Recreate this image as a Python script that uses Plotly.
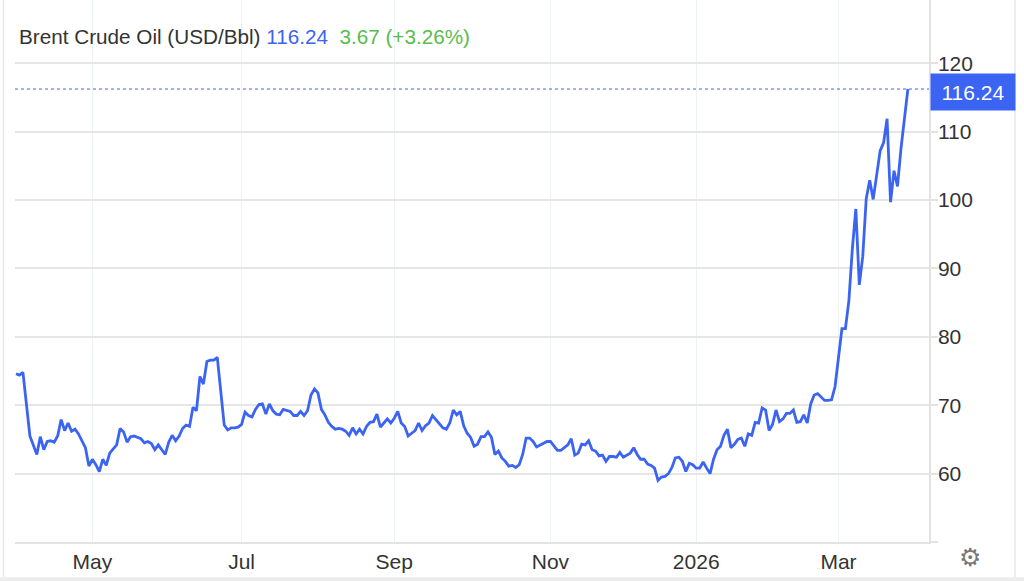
import plotly.graph_objects as go

# Brent crude daily closes (USD/Bbl)
dates = [
    "2025-03-31", "2025-04-01", "2025-04-02", "2025-04-04", "2025-04-08", "2025-04-09", "2025-04-10", "2025-04-11",
    "2025-04-14", "2025-04-15", "2025-04-16", "2025-04-17", "2025-04-21", "2025-04-22", "2025-04-23", "2025-04-24",
    "2025-04-25", "2025-04-29", "2025-04-30", "2025-05-01", "2025-05-02", "2025-05-05", "2025-05-06", "2025-05-07",
    "2025-05-08", "2025-05-12", "2025-05-13", "2025-05-14", "2025-05-15", "2025-05-16", "2025-05-19", "2025-05-21",
    "2025-05-22", "2025-05-23", "2025-05-26", "2025-05-27", "2025-05-28", "2025-05-29", "2025-05-30", "2025-06-02",
    "2025-06-03", "2025-06-04", "2025-06-05", "2025-06-06", "2025-06-09", "2025-06-10", "2025-06-11", "2025-06-12",
    "2025-06-13", "2025-06-16", "2025-06-17", "2025-06-18", "2025-06-19", "2025-06-20", "2025-06-23", "2025-06-24",
    "2025-06-25", "2025-06-26", "2025-06-27", "2025-06-30", "2025-07-01", "2025-07-02", "2025-07-03", "2025-07-04",
    "2025-07-07", "2025-07-08", "2025-07-09", "2025-07-10", "2025-07-11", "2025-07-14", "2025-07-15", "2025-07-16",
    "2025-07-17", "2025-07-18", "2025-07-21", "2025-07-22", "2025-07-23", "2025-07-24", "2025-07-25", "2025-07-28",
    "2025-07-29", "2025-07-30", "2025-07-31", "2025-08-01", "2025-08-04", "2025-08-05", "2025-08-06", "2025-08-07",
    "2025-08-08", "2025-08-11", "2025-08-12", "2025-08-13", "2025-08-14", "2025-08-15", "2025-08-18", "2025-08-19",
    "2025-08-20", "2025-08-21", "2025-08-22", "2025-08-25", "2025-08-26", "2025-08-27", "2025-08-28", "2025-08-29",
    "2025-09-01", "2025-09-02", "2025-09-03", "2025-09-04", "2025-09-05", "2025-09-08", "2025-09-09", "2025-09-10",
    "2025-09-11", "2025-09-12", "2025-09-15", "2025-09-16", "2025-09-17", "2025-09-18", "2025-09-19", "2025-09-22",
    "2025-09-23", "2025-09-24", "2025-09-25", "2025-09-26", "2025-09-29", "2025-09-30", "2025-10-01", "2025-10-02",
    "2025-10-03", "2025-10-06", "2025-10-07", "2025-10-08", "2025-10-09", "2025-10-10", "2025-10-13", "2025-10-14",
    "2025-10-15", "2025-10-16", "2025-10-17", "2025-10-20", "2025-10-21", "2025-10-22", "2025-10-23", "2025-10-24",
    "2025-10-27", "2025-10-28", "2025-10-29", "2025-10-30", "2025-10-31", "2025-11-03", "2025-11-04", "2025-11-05",
    "2025-11-06", "2025-11-07", "2025-11-10", "2025-11-11", "2025-11-12", "2025-11-13", "2025-11-14", "2025-11-17",
    "2025-11-18", "2025-11-19", "2025-11-20", "2025-11-21", "2025-11-24", "2025-11-25", "2025-11-26", "2025-11-27",
    "2025-11-28", "2025-12-01", "2025-12-02", "2025-12-04", "2025-12-05", "2025-12-08", "2025-12-09", "2025-12-10",
    "2025-12-11", "2025-12-12", "2025-12-15", "2025-12-16", "2025-12-17", "2025-12-18", "2025-12-19", "2025-12-22",
    "2025-12-23", "2025-12-24", "2025-12-26", "2025-12-29", "2025-12-30", "2025-12-31", "2026-01-02", "2026-01-05",
    "2026-01-06", "2026-01-07", "2026-01-08", "2026-01-09", "2026-01-12", "2026-01-13", "2026-01-14", "2026-01-15",
    "2026-01-16", "2026-01-19", "2026-01-20", "2026-01-21", "2026-01-22", "2026-01-23", "2026-01-26", "2026-01-27",
    "2026-01-28", "2026-01-29", "2026-01-30", "2026-02-02", "2026-02-03", "2026-02-04", "2026-02-05", "2026-02-06",
    "2026-02-09", "2026-02-10", "2026-02-11", "2026-02-12", "2026-02-13", "2026-02-16", "2026-02-17", "2026-02-18",
    "2026-02-19", "2026-02-20", "2026-02-23", "2026-02-24", "2026-02-25", "2026-02-26", "2026-02-27", "2026-03-02",
    "2026-03-03", "2026-03-04", "2026-03-05", "2026-03-06", "2026-03-09", "2026-03-10", "2026-03-11", "2026-03-12",
    "2026-03-13", "2026-03-16", "2026-03-17", "2026-03-18", "2026-03-19", "2026-03-20", "2026-03-23", "2026-03-24",
    "2026-03-25", "2026-03-26", "2026-03-30",
]
prices = [
    74.6, 74.4, 74.8, 65.5, 62.8, 65.4, 63.5, 64.7,
    64.8, 64.6, 65.5, 67.9, 66.3, 67.4, 66.2, 66.5,
    65.8, 63.8, 61.1, 62.1, 61.3, 60.3, 62.1, 61.2,
    63.0, 64.2, 66.6, 66.1, 64.6, 65.4, 65.5, 65.1,
    64.5, 64.7, 64.4, 63.5, 64.2, 63.5, 62.8, 64.6,
    65.6, 64.8, 65.5, 66.6, 67.1, 66.9, 69.7, 69.2,
    74.2, 73.1, 76.4, 76.6, 76.6, 77.0, 71.5, 67.1,
    66.4, 66.7, 66.7, 66.8, 67.2, 69.0, 68.5, 68.3,
    69.4, 70.1, 70.2, 68.7, 70.2, 69.2, 68.7, 68.6,
    69.4, 69.2, 69.1, 68.5, 68.5, 69.1, 68.5, 69.2,
    71.5, 72.4, 71.8, 69.4, 68.6, 67.5, 66.9, 66.5,
    66.6, 66.5, 66.2, 65.6, 66.7, 65.8, 66.5, 65.8,
    66.9, 67.5, 67.6, 68.7, 66.8, 67.4, 68.0, 67.4,
    68.1, 69.1, 67.4, 66.9, 65.5, 65.9, 66.3, 67.4,
    66.3, 67.0, 67.4, 68.5, 67.9, 67.4, 66.7, 66.5,
    67.4, 69.3, 68.6, 69.1, 67.0, 65.9, 65.3, 64.0,
    64.3, 65.4, 65.4, 66.1, 65.3, 62.8, 63.3, 62.3,
    61.8, 61.1, 61.2, 60.9, 61.3, 62.8, 65.2, 65.2,
    64.7, 63.9, 64.2, 64.4, 64.7, 64.7, 64.1, 63.4,
    63.4, 63.8, 64.2, 65.1, 62.7, 63.0, 64.3, 64.2,
    64.8, 63.5, 63.3, 62.6, 62.7, 61.8, 62.5, 62.5,
    62.4, 63.1, 62.4, 63.0, 63.8, 62.8, 62.1, 62.1,
    61.4, 61.2, 60.8, 59.0, 59.5, 59.6, 60.0, 60.9,
    62.3, 62.4, 61.8, 60.3, 61.5, 61.3, 60.8, 60.8,
    61.7, 60.8, 60.0, 62.1, 63.5, 64.0, 65.6, 66.5,
    63.8, 64.3, 65.0, 65.2, 64.0, 65.8, 65.6, 67.5,
    67.4, 69.6, 69.3, 66.3, 67.2, 69.3, 67.6, 68.0,
    68.8, 68.8, 69.3, 67.5, 67.6, 68.6, 67.4, 70.2,
    71.5, 71.7, 71.2, 70.7, 70.7, 70.8, 72.7, 77.4,
    81.2, 81.2, 85.3, 92.9, 98.7, 87.6, 91.8, 100.2,
    102.9, 100.1, 103.8, 107.2, 108.4, 111.9, 99.7, 104.3,
    102.0, 107.5, 116.24,
]

last_price = 116.24
change = "3.67 (+3.26%)"

x_tickvals = ["2025-05-01", "2025-07-01", "2025-09-01", "2025-11-03", "2026-01-02", "2026-03-02"]
x_ticktext = ["May", "Jul", "Sep", "Nov", "2026", "Mar"]
y_tickvals = [50, 60, 70, 80, 90, 100, 110, 120]
y_ticktext = ["", "60", "70", "80", "90", "100", "110", "120"]
holidays = ["2025-04-18", "2025-12-25", "2026-01-01"]

BLUE = "#3b64f3"
GREEN = "#58bd4c"
FONT = "Liberation Sans, Arial, sans-serif"
TICK_SIZE = 21
TITLE_SIZE = 20.7

fig = go.Figure(go.Scatter(x=dates, y=prices, mode="lines",
                           line=dict(color=BLUE, width=2.8),
                           name="Brent", hoverinfo="x+y"))

fig.update_layout(
    width=1024, height=581,
    margin=dict(l=15, r=95, t=0, b=39),
    plot_bgcolor="white", paper_bgcolor="white",
    showlegend=False,
    font=dict(family=FONT, size=TICK_SIZE, color="#333"),
)

fig.update_xaxes(
    type="date",
    range=["2025-03-28 17:00", "2026-04-07 02:00"],
    rangebreaks=[dict(bounds=["sat", "mon"]), dict(values=holidays)],
    tickmode="array", tickvals=x_tickvals, ticktext=x_ticktext,
    showgrid=True, gridcolor="#edf2f4", gridwidth=1,
    showline=True, linecolor="#e3e3e3", linewidth=1.5,
    ticks="", tickfont=dict(size=TICK_SIZE, color="#333"),
    zeroline=False,
)

fig.update_yaxes(
    side="right",
    range=[50, 129.26],
    tickmode="array", tickvals=y_tickvals, ticktext=y_ticktext,
    showgrid=True, gridcolor="#e6e6e6", gridwidth=1.5,
    showline=True, linecolor="#e3e3e3", linewidth=1.5,
    ticks="outside", ticklen=7, tickcolor="#e3e3e3", tickwidth=1.5,
    ticklabelstandoff=-4,
    tickfont=dict(size=TICK_SIZE, color="#333"),
    zeroline=False,
)

# dotted guide at the last price
fig.add_hline(y=last_price, line=dict(color=BLUE, width=1, dash="dot"))

# title line with price and change
fig.add_annotation(
    xref="paper", yref="paper", x=0.0025, y=1, xanchor="left", yanchor="top",
    yshift=-23, showarrow=False,
    text=("Brent Crude Oil (USD/Bbl) "
          f"<span style='color:{BLUE}'>{last_price:.2f}</span>&nbsp; "
          f"<span style='color:{GREEN}'>{change}</span>"),
    font=dict(size=TITLE_SIZE, color="#333"),
)

# last price box on the axis
fig.add_annotation(
    xref="paper", yref="y", x=1, y=last_price, xanchor="left", yanchor="middle",
    xshift=1, yshift=-2.5, showarrow=False,
    text=f"{last_price:.2f}", width=82, height=34, borderpad=1,
    bgcolor=BLUE, font=dict(size=TICK_SIZE, color="white"),
)

# settings gear
fig.add_annotation(
    xref="paper", yref="paper", x=1.0449, y=-0.028, xanchor="center", yanchor="middle",
    showarrow=False, text="⚙", font=dict(size=25, color="#777"),
)

# container frame
fig.add_shape(type="line", xref="paper", yref="paper", x0=-0.0126, x1=-0.0126, y0=-0.065, y1=1.0,
              line=dict(color="#e8e8e8", width=1.5))
fig.add_shape(type="line", xref="paper", yref="paper", x0=1.0941, x1=1.0941, y0=-0.065, y1=1.0,
              line=dict(color="#e8e8e8", width=1.5))
fig.add_shape(type="rect", xref="paper", yref="paper", x0=-0.02, x1=1.11, y0=-0.075, y1=-0.065,
              line=dict(width=0), fillcolor="#ececec")

fig.write_html("out.html", config={"displayModeBar": False},
               post_script="document.body.style.margin='0';")
